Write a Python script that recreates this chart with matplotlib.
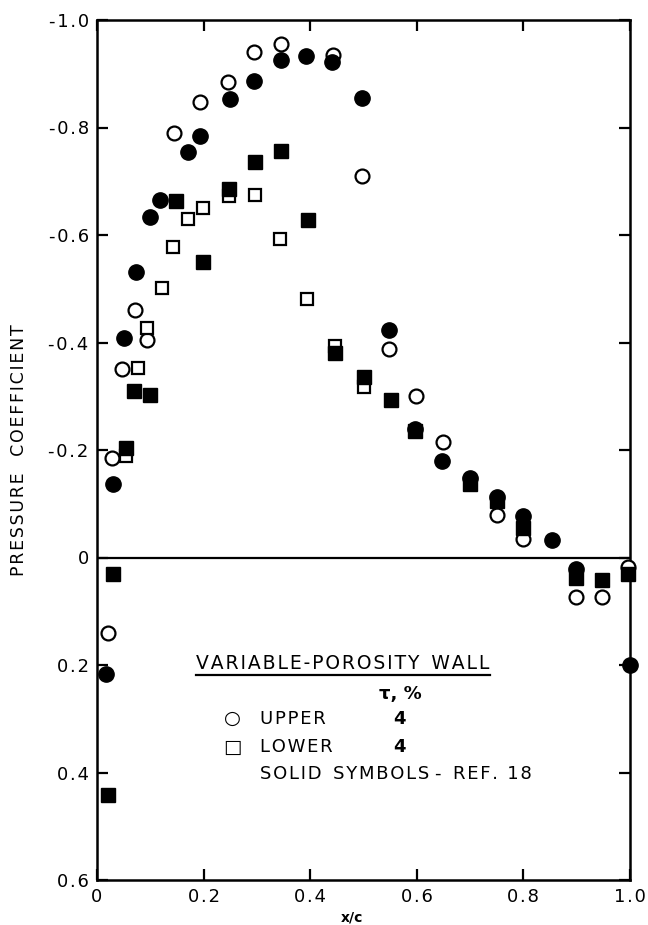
import numpy as np
from matplotlib import pyplot as plt
from matplotlib.lines import Line2D

# variable-porosity wall, tau = 4 %
upper_x = [0.02, 0.028, 0.047, 0.072, 0.094, 0.145, 0.194, 0.245, 0.294, 0.345,
           0.443, 0.497, 0.548, 0.599, 0.65, 0.75, 0.80, 0.898, 0.947, 0.996]
upper_cp = [0.14, -0.185, -0.35, -0.46, -0.405, -0.79, -0.848, -0.885, -0.94, -0.955,
            -0.935, -0.71, -0.388, -0.30, -0.215, -0.08, -0.035, 0.073, 0.073, 0.017]

lower_x = [0.054, 0.077, 0.094, 0.122, 0.143, 0.17, 0.198, 0.247, 0.296, 0.343,
           0.394, 0.446, 0.50]
lower_cp = [-0.188, -0.353, -0.427, -0.502, -0.577, -0.629, -0.651, -0.672, -0.674, -0.593,
            -0.481, -0.394, -0.318]

# solid symbols - ref. 18
ref_upper_x = [0.017, 0.03, 0.051, 0.073, 0.10, 0.119, 0.17, 0.194, 0.249, 0.294,
               0.346, 0.393, 0.441, 0.497, 0.548, 0.597, 0.648, 0.699, 0.751, 0.80,
               0.853, 0.898, 1.0]
ref_upper_cp = [0.216, -0.136, -0.408, -0.532, -0.633, -0.666, -0.754, -0.785, -0.853, -0.886,
                -0.925, -0.933, -0.922, -0.854, -0.423, -0.24, -0.179, -0.147, -0.112, -0.078,
                -0.032, 0.022, 0.20]

ref_lower_x = [0.021, 0.03, 0.054, 0.07, 0.10, 0.149, 0.198, 0.247, 0.296, 0.345,
               0.395, 0.446, 0.50, 0.552, 0.597, 0.699, 0.751, 0.80, 0.898, 0.947, 0.996]
ref_lower_cp = [0.442, 0.03, -0.204, -0.31, -0.302, -0.664, -0.549, -0.685, -0.735, -0.756,
                -0.627, -0.381, -0.335, -0.293, -0.235, -0.137, -0.105, -0.054, 0.038, 0.041, 0.03]

x_ticks = [0, 0.2, 0.4, 0.6, 0.8, 1.0]
x_labels = ["0", "0.2", "0.4", "0.6", "0.8", "1.0"]
y_ticks = [-1.0, -0.8, -0.6, -0.4, -0.2, 0, 0.2, 0.4, 0.6]
y_labels = ["-1.0", "-0.8", "-0.6", "-0.4", "-0.2", "0", "0.2", "0.4", "0.6"]

plt.rcParams['font.family'] = ['DejaVu Sans']


def spaced(s):
    # the original lettering is set wide, so add hair spaces between letters
    return "\u200a".join(s)


fig = plt.figure(figsize=(6.48, 9.25), dpi=100)
ax = fig.add_axes([97 / 648, 45 / 925, 533 / 648, 860 / 925])

ax.axhline(0, color="black", lw=1.6, zorder=1)

# open symbols first, solid ones sit on top where they overlap
ax.plot(upper_x, upper_cp, "o", ms=10, mfc="white", mec="black", mew=1.6, ls="none",
        zorder=3, clip_on=False)
ax.plot(lower_x, lower_cp, "s", ms=9, mfc="white", mec="black", mew=1.6, ls="none",
        zorder=3, clip_on=False)
ax.plot(ref_upper_x, ref_upper_cp, "o", ms=11, color="black", ls="none", zorder=4, clip_on=False)
ax.plot(ref_lower_x, ref_lower_cp, "s", ms=9.5, color="black", ls="none", zorder=4, clip_on=False)

ax.set_xlim(0, 1.0)
ax.set_ylim(0.6, -1.0)
ax.set_xticks(x_ticks, [spaced(t) for t in x_labels])
ax.set_yticks(y_ticks, [spaced(t) for t in y_labels])
ax.tick_params(direction="in", length=8, width=1.6, labelsize=13, pad=6,
               top=True, right=True)
for sp in ax.spines.values():
    sp.set_linewidth(1.8)

ax.set_ylabel(spaced("PRESSURE") + "   " + spaced("COEFFICIENT"), fontsize=12.5)
ax.yaxis.set_label_coords(-0.13, 0.5)
ax.set_xlabel("x/c", fontsize=10, fontweight="bold")
ax.xaxis.set_label_coords(0.478, -0.035)

# key
title = ax.text(0.186, 0.198, spaced("VARIABLE-POROSITY") + "  " + spaced("WALL"),
                fontsize=13.5, va="center", ha="left")
ax.text(0.569, 0.254, "τ, %", fontsize=13, va="center", ha="center", fontweight="bold")
ax.text(0.254, 0.30, "○", fontsize=14, va="center", ha="center")
ax.text(0.305, 0.30, spaced("UPPER"), fontsize=13, va="center", ha="left")
ax.text(0.567, 0.30, "4", fontsize=13, va="center", ha="center", fontweight="bold")
ax.text(0.254, 0.353, "□", fontsize=14, va="center", ha="center")
ax.text(0.305, 0.353, spaced("LOWER"), fontsize=13, va="center", ha="left")
ax.text(0.567, 0.353, "4", fontsize=13, va="center", ha="center", fontweight="bold")
ax.text(0.305, 0.403, spaced("SOLID") + "  " + spaced("SYMBOLS") + " -  " + spaced("REF. 18"),
        fontsize=13, va="center", ha="left")

# underline the key title
fig.canvas.draw()
bb = title.get_window_extent().transformed(ax.transData.inverted())
ax.add_line(Line2D([bb.x0, bb.x1], [0.218, 0.218], color="black", lw=1.6))

fig.savefig("out.png", dpi=100)
